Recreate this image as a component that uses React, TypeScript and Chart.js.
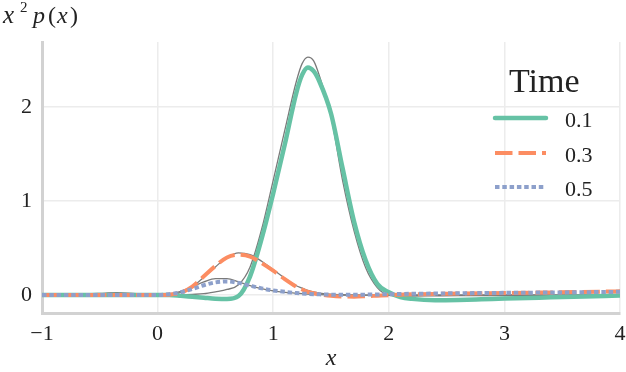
import React, { useEffect, useRef } from 'react';
import { Chart, registerables } from 'chart.js';
Chart.register(...registerables);

const X = [-1, -0.8, -0.6, -0.45, -0.35, -0.25, -0.1, 0, 0.1, 0.2, 0.3, 0.4, 0.5, 0.6, 0.7, 0.8, 0.9, 1.0, 1.1, 1.2, 1.25, 1.3, 1.35, 1.4, 1.5, 1.6, 1.7, 1.8, 1.9, 2.0, 2.1, 2.2, 2.4, 2.6, 2.8, 3.0, 3.3, 3.6, 4.0];

const est01 = [0, 0, 0, 0, 0, 0, 0, 0,
  0, -0.008, -0.018, -0.028, -0.038, -0.042, -0.01, 0.2, 0.6, 1.08, 1.6, 2.15,
  2.34, 2.42, 2.38,
  2.27, 1.93, 1.35, 0.78, 0.37, 0.12, 0.03, -0.02, -0.04,
  -0.055, -0.052, -0.045, -0.037, -0.027, -0.017, -0.005];

const true01 = [0, 0.005, 0.012, 0.022, 0.026, 0.022, 0.008, 0,
  0, 0.003, 0.008, 0.015, 0.035, 0.06, 0.11, 0.3, 0.7, 1.22, 1.75, 2.27,
  2.46, 2.53, 2.49,
  2.33, 1.9, 1.22, 0.68, 0.29, 0.08, 0.0, -0.01, -0.01,
  -0.008, -0.006, -0.005, -0.004, -0.003, -0.002, 0];

const est03 = [0, 0, 0, 0, 0, 0, 0, 0,
  0.005, 0.025, 0.09, 0.2, 0.31, 0.4, 0.43, 0.41, 0.34, 0.26, 0.17, 0.09,
  0.06, 0.035, 0.02,
  0.008, -0.008, -0.015, -0.016, -0.012, -0.006, 0.0, 0.004, 0.008,
  0.013, 0.016, 0.019, 0.022, 0.027, 0.032, 0.04];

const true03 = [0, 0, 0, 0, 0, 0, 0, 0,
  0.006, 0.03, 0.09, 0.19, 0.3, 0.4, 0.45, 0.43, 0.36, 0.27, 0.18, 0.1,
  0.075, 0.05, 0.035,
  0.022, 0.01, 0.004, 0.001, 0, 0, 0, 0, 0,
  0, 0, 0, 0, 0, 0, 0];

const est05 = [0, 0, 0, 0, 0, 0, 0, 0,
  0.01, 0.03, 0.065, 0.105, 0.135, 0.145, 0.13, 0.1, 0.072, 0.05, 0.035, 0.022,
  0.017, 0.013, 0.01,
  0.008, 0.005, 0.004, 0.004, 0.005, 0.007, 0.01, 0.012, 0.014,
  0.017, 0.02, 0.022, 0.024, 0.027, 0.03, 0.035];

const true05 = [0, 0, 0, 0, 0, 0, 0, 0,
  0.012, 0.04, 0.09, 0.14, 0.175, 0.175, 0.14, 0.1, 0.068, 0.045, 0.03, 0.02,
  0.015, 0.01, 0.008,
  0.005, 0.002, 0, 0, 0, 0, 0, 0, 0,
  0, 0, 0, 0, 0, 0, 0];

const X_TICKS = [-1, 0, 1, 2, 3, 4];
const Y_TICKS = [0, 1, 2];
const LEGEND_TITLE = 'Time';
const LEGEND_LABELS = ['0.1', '0.3', '0.5'];

const GREEN = '#66c2a5';
const ORANGE = '#fc8d62';
const BLUE = '#8da0cb';
const GRAY = '#7a7a7a';
const FONT = "'Liberation Serif', 'DejaVu Serif', serif";
const TEXT = '#222222';

const pts = (ys: number[]) => X.map((x, i) => ({ x, y: ys[i] }));

const overlay = {
  id: 'overlay',
  afterDraw(chart: any) {
    const ctx = chart.ctx as CanvasRenderingContext2D;
    ctx.save();
    ctx.fillStyle = TEXT;
    ctx.textBaseline = 'alphabetic';
    ctx.textAlign = 'left';
    // y label: x^2 p(x)
    ctx.font = `italic 25px ${FONT}`;
    ctx.fillText('x', 3, 23);
    ctx.font = `15px ${FONT}`;
    ctx.fillText('2', 20, 12);
    ctx.font = `italic 24px ${FONT}`;
    ctx.fillText('p', 33, 23);
    ctx.font = `24px ${FONT}`;
    ctx.fillText('(', 48, 23);
    ctx.font = `italic 24px ${FONT}`;
    ctx.fillText('x', 57, 23);
    ctx.font = `24px ${FONT}`;
    ctx.fillText(')', 70, 23);
    // x label
    ctx.textAlign = 'center';
    ctx.font = `italic 24px ${FONT}`;
    ctx.fillText('x', (chart.chartArea.left + chart.chartArea.right) / 2, 365);
    // legend
    ctx.textAlign = 'left';
    ctx.font = `34px ${FONT}`;
    ctx.fillText(LEGEND_TITLE, 509, 92);
    const rows = [
      { c: GREEN, dash: [] as number[], w: 4.5, cap: 'round' },
      { c: ORANGE, dash: [17.5, 6], w: 4, cap: 'butt' },
      { c: BLUE, dash: [4.5, 2.8], w: 4, cap: 'butt' },
    ];
    const ys = [118, 153, 187];
    rows.forEach((r, i) => {
      ctx.beginPath();
      ctx.strokeStyle = r.c;
      ctx.lineWidth = r.w;
      ctx.lineCap = r.cap as CanvasLineCap;
      ctx.setLineDash(r.dash);
      ctx.moveTo(495, ys[i]);
      ctx.lineTo(546, ys[i]);
      ctx.stroke();
      ctx.setLineDash([]);
      ctx.fillStyle = TEXT;
      ctx.font = `22px ${FONT}`;
      ctx.fillText(LEGEND_LABELS[i], 565, ys[i] + 8.5);
    });
    ctx.restore();
  },
};

export default function App() {
  const ref = useRef<HTMLCanvasElement>(null);
  useEffect(() => {
    if (!ref.current) return;
    const thin = (data: number[]) => ({
      data: pts(data),
      borderColor: GRAY,
      borderWidth: 1.3,
      pointRadius: 0,
      cubicInterpolationMode: 'monotone',
      order: 10,
    });
    const chart = new Chart(ref.current, {
      type: 'line',
      data: {
        datasets: [
          thin(true01) as any,
          thin(true03) as any,
          thin(true05) as any,
          {
            label: LEGEND_LABELS[0], data: pts(est01), borderColor: GREEN, borderWidth: 4.5,
            pointRadius: 0, cubicInterpolationMode: 'monotone', borderCapStyle: 'round', order: 3,
          },
          {
            label: LEGEND_LABELS[1], data: pts(est03), borderColor: ORANGE, borderWidth: 4,
            borderDash: [17.5, 6], pointRadius: 0, cubicInterpolationMode: 'monotone', borderCapStyle: 'butt', order: 2,
          },
          {
            label: LEGEND_LABELS[2], data: pts(est05), borderColor: BLUE, borderWidth: 4,
            borderDash: [4.5, 2.8], pointRadius: 0, cubicInterpolationMode: 'monotone', borderCapStyle: 'butt', order: 1,
          },
        ],
      },
      options: {
        responsive: false,
        animation: false,
        devicePixelRatio: 1,
        layout: { padding: { top: 42, right: 6, left: 0, bottom: 0 } },
        plugins: { legend: { display: false }, tooltip: { enabled: false } },
        scales: {
          x: {
            type: 'linear', min: -1, max: 4,
            afterBuildTicks: (s: any) => { s.ticks = X_TICKS.map((v) => ({ value: v })); },
            afterFit: (s: any) => { s.height = 59; s.paddingLeft = 0; s.paddingRight = 0; },
            grid: { color: '#ececec', lineWidth: 1.5, drawTicks: false },
            border: { color: '#d2d2d2', width: 3 },
            ticks: {
              padding: 8, color: TEXT, maxRotation: 0, autoSkip: false,
              font: { family: FONT, size: 22 },
              callback: (v: any) => (v < 0 ? '\u2212' + Math.abs(v) : String(v)),
            },
          },
          y: {
            type: 'linear', min: -0.19, max: 2.69,
            afterBuildTicks: (s: any) => { s.ticks = Y_TICKS.map((v) => ({ value: v })); },
            afterFit: (s: any) => { s.width = 42; s.paddingTop = 0; s.paddingBottom = 0; },
            grid: { color: '#ececec', lineWidth: 1.5, drawTicks: false },
            border: { color: '#d2d2d2', width: 3 },
            ticks: {
              padding: 10, color: TEXT,
              font: { family: FONT, size: 22 },
              callback: (v: any) => String(v),
            },
          },
        },
      },
      plugins: [overlay],
    } as any);
    return () => chart.destroy();
  }, []);
  return (
    <div style={{ position: 'absolute', left: 0, top: 0, width: 626, height: 372, background: '#fff' }}>
      <canvas ref={ref} width={626} height={372} style={{ display: 'block' }} />
    </div>
  );
}
